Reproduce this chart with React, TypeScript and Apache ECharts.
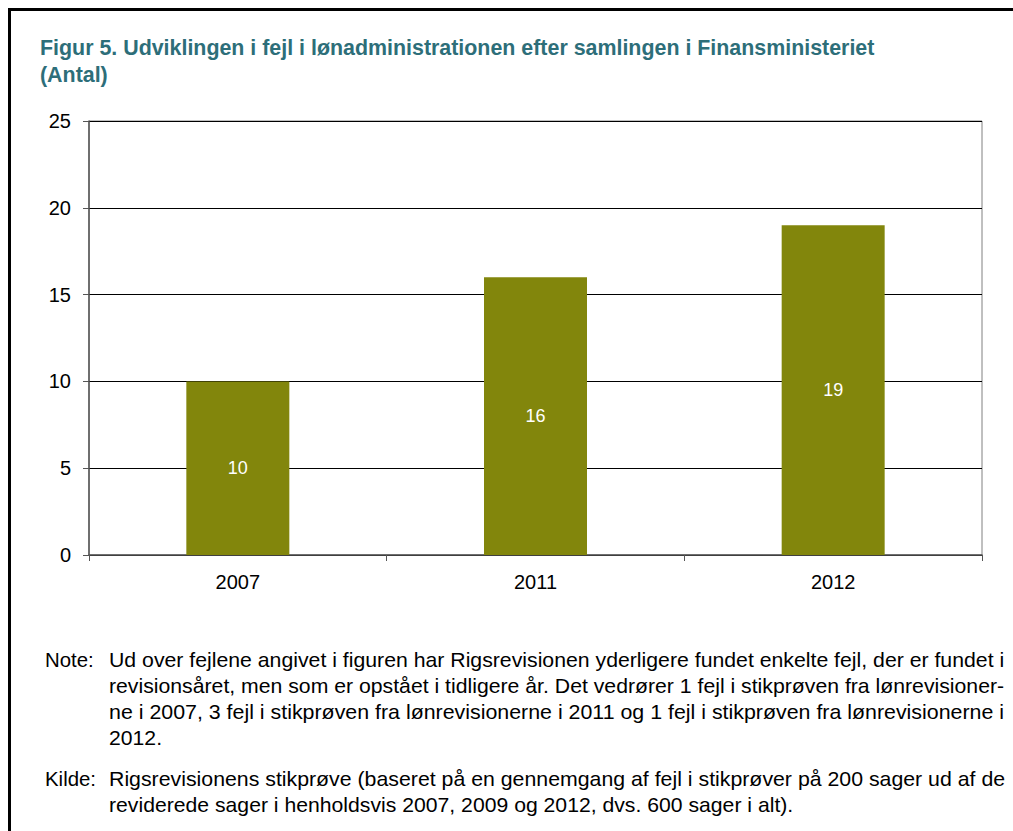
import React, { useEffect, useRef } from "react";
import * as echarts from "echarts";

const categories = ["2007", "2011", "2012"];
const values = [10, 16, 19];
const yTicks = [0, 5, 10, 15, 20, 25];
const titleLines = [
  "Figur 5. Udviklingen i fejl i lønadministrationen efter samlingen i Finansministeriet",
  "(Antal)",
];
const noteLabel = "Note:";
const noteLines = [
  "Ud over fejlene angivet i figuren har Rigsrevisionen yderligere fundet enkelte fejl, der er fundet i",
  "revisionsåret, men som er opstået i tidligere år. Det vedrører 1 fejl i stikprøven fra lønrevisioner-",
  "ne i 2007, 3 fejl i stikprøven fra lønrevisionerne i 2011 og 1 fejl i stikprøven fra lønrevisionerne i",
  "2012.",
];
const noteJustify = [true, true, true, false];
const sourceLabel = "Kilde:";
const sourceLines = [
  "Rigsrevisionens stikprøve (baseret på en gennemgang af fejl i stikprøver på 200 sager ud af de",
  "reviderede sager i henholdsvis 2007, 2009 og 2012, dvs. 600 sager i alt).",
];
const sourceJustify = [true, false];

const SANS = '"Liberation Sans", Arial, sans-serif';
const NOTE_SIZE = 20;
const TEXT_LEFT = 109;
const TEXT_RIGHT = 1005;
const DEFAULT_STRETCH = 1.06;

export default function App() {
  const ref = useRef<HTMLDivElement>(null);
  useEffect(() => {
    if (!ref.current) return;
    const chart = echarts.init(ref.current, null, { renderer: "svg" });
    const ctx = document.createElement("canvas").getContext("2d")!;
    ctx.font = `${NOTE_SIZE}px "Liberation Sans"`;
    const noteStyle = { fontFamily: SANS, fontSize: NOTE_SIZE, fill: "#000", verticalAlign: "middle" };
    const graphics: any[] = [
      { type: "rect", shape: { x: 8, y: 8, width: 3, height: 823 }, style: { fill: "#000" } },
      { type: "rect", shape: { x: 8, y: 8, width: 1005, height: 3 }, style: { fill: "#000" } },
      { type: "text", x: 45, y: 660, scaleX: 1.02, style: { ...noteStyle, text: noteLabel } },
      { type: "text", x: 45, y: 779, scaleX: 1.02, style: { ...noteStyle, text: sourceLabel } },
    ];
    const addLine = (t: string, y: number, justify: boolean) => {
      let sx = DEFAULT_STRETCH;
      if (justify) {
        const w = ctx.measureText(t).width;
        sx = (TEXT_RIGHT - TEXT_LEFT) / w;
      }
      graphics.push({ type: "text", x: TEXT_LEFT, y, scaleX: sx, style: { ...noteStyle, text: t } });
    };
    noteLines.forEach((t, i) => addLine(t, 660 + i * 26, noteJustify[i]));
    sourceLines.forEach((t, i) => addLine(t, 779 + i * 26, sourceJustify[i]));
    chart.setOption({
      animation: false,
      backgroundColor: "#fff",
      title: {
        text: titleLines.join("\n"),
        left: 35,
        top: 29,
        textStyle: { fontFamily: SANS, fontSize: 21.4, fontWeight: "bold", color: "#2D6E79", lineHeight: 27 },
      },
      grid: { left: 89, top: 121, right: 31, bottom: 276, show: true, borderColor: "#808080", borderWidth: 1 },
      xAxis: {
        type: "category",
        data: categories,
        axisLine: { lineStyle: { color: "#555", width: 1.5 } },
        axisTick: { show: true, length: 6, lineStyle: { color: "#555" } },
        axisLabel: { fontFamily: SANS, fontSize: 20, color: "#000", margin: 17 },
      },
      yAxis: {
        type: "value",
        min: yTicks[0],
        max: yTicks[yTicks.length - 1],
        interval: 5,
        axisLine: { show: true, lineStyle: { color: "#555", width: 1.5 } },
        axisTick: { show: true, length: 6, lineStyle: { color: "#555" } },
        axisLabel: { fontFamily: SANS, fontSize: 20, color: "#000", margin: 18 },
        splitLine: { show: true, lineStyle: { color: "#000", width: 1 } },
      },
      series: [
        {
          type: "bar",
          data: values,
          barWidth: "34.6%",
          itemStyle: { color: "#82860C" },
          label: { show: true, position: "inside", color: "#fff", fontFamily: SANS, fontSize: 18 },
        },
      ],
      graphic: graphics,
    });
    return () => chart.dispose();
  }, []);
  return <div ref={ref} style={{ position: "fixed", left: 0, top: 0, width: 1013, height: 831 }} />;
}
